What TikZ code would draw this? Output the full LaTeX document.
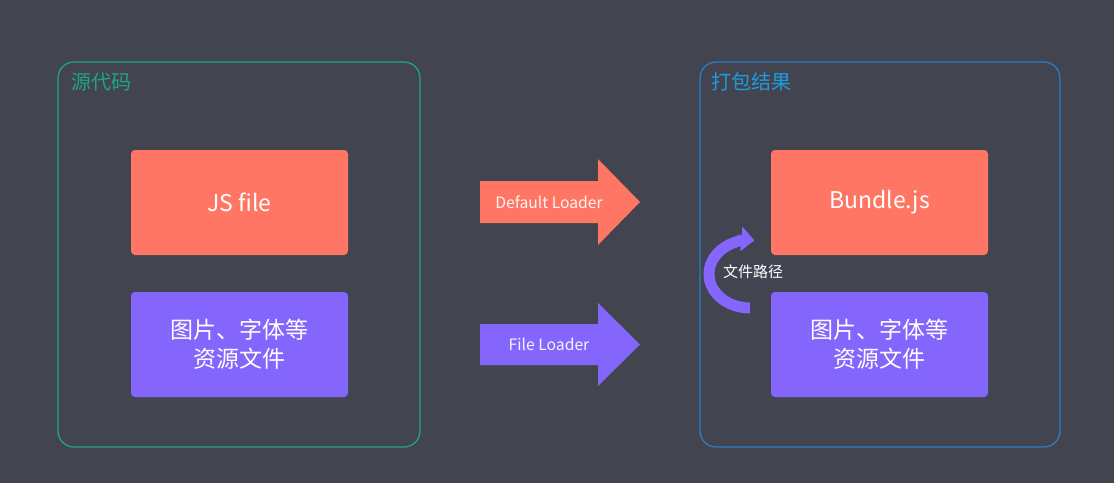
\documentclass[tikz,border=0pt]{standalone}
\usepackage{fontspec}
\setmainfont{Noto Sans CJK SC}
\usetikzlibrary{arrows.meta}
\definecolor{bg}{HTML}{42454F}
\definecolor{tealc}{HTML}{1FA38A}
\definecolor{bluec}{HTML}{2E7CC4}
\definecolor{bluet}{HTML}{1E9BE0}
\definecolor{salmon}{HTML}{FF7664}
\definecolor{violet}{HTML}{8466FC}
\tikzset{
  frame/.style={line width=1.3pt, rounded corners=16pt},
  title/.style={anchor=west, font=\fontsize{20}{24}\selectfont, inner sep=0pt},
  card/.style={rounded corners=4pt, minimum width=217pt, minimum height=105pt, inner sep=0pt, text=white, align=center, font=\fontsize{23}{29}\selectfont},
  arrowlabel/.style={text=white!92!salmon, font=\fontsize{15.7}{18}\selectfont, inner sep=0pt},
}
\begin{document}
\begin{tikzpicture}[x=1pt,y=-1pt]
\fill[bg] (0,0) rectangle (1114,483);
\useasboundingbox (0,0) rectangle (1114,483);

% frames
\draw[frame, tealc] (58,62) rectangle (420,447);
\draw[frame, bluec] (700,62) rectangle (1060,447);
\node[title, text=tealc] (t1) at (71,82) {源代码};
\node[title, text=bluet] (t2) at (711,82) {打包结果};

% cards
\node[card, fill=salmon] (js) at (239.5,202.5) {JS file};
\node[card, fill=violet] (res) at (239.5,344.5) {图片、字体等\\资源文件};
\node[card, fill=salmon] (bundle) at (879.5,202.5) {Bundle.js};
\node[card, fill=violet] (res2) at (879.5,344.5) {图片、字体等\\资源文件};

% block arrows
\fill[salmon] (480,181) -- (598,181) -- (598,159) -- (640,202) -- (598,245) -- (598,223) -- (480,223) -- cycle;
\node[arrowlabel] (dl) at (549,202) {Default Loader};
\fill[violet] (480,324) -- (598,324) -- (598,303) -- (640,344.5) -- (598,386) -- (598,365) -- (480,365) -- cycle;
\node[arrowlabel, text=white!92!violet] (fl) at (549,344) {File Loader};

% curved arrow
\draw[violet, line width=11pt, -{Triangle[length=13pt,width=24pt]}] (750,308) arc[start angle=90, end angle=276, x radius=41, y radius=34];
\node[text=white, font=\fontsize{15}{18}\selectfont, inner sep=0pt] (fp) at (753,272) {文件路径};
\end{tikzpicture}
\end{document}
